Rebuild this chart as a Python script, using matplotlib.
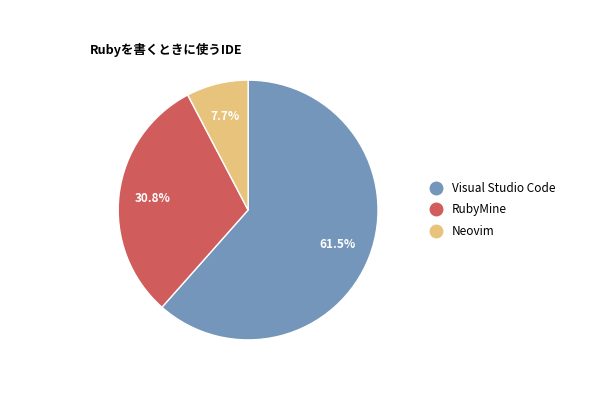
import matplotlib.pyplot as plt
from matplotlib.lines import Line2D

plt.rcParams['font.family'] = ['Noto Sans CJK JP', 'DejaVu Sans']

labels = ["Visual Studio Code", "RubyMine", "Neovim"]
values = [8, 4, 1]
colors = ["#7496bb", "#d15c5c", "#e7c37c"]

fig = plt.figure(figsize=(6, 4), dpi=100)
ax = fig.add_axes([0.197, 0.15, 0.433, 0.65])
wedges, texts, autotexts = ax.pie(values, colors=colors, startangle=90, counterclock=False,
                                  autopct="%.1f%%", pctdistance=0.74,
                                  wedgeprops=dict(edgecolor="white", linewidth=1))
for t in autotexts:
    t.set_color("white")
    t.set_fontsize(8.5)
    t.set_fontweight("bold")
ax.set_aspect("equal")
ax.set_xlim(-1.0, 1.0)
ax.set_ylim(-1.0, 1.0)

fig.text(0.15, 0.875, "Rubyを書くときに使うIDE", fontsize=9, fontweight="bold", va="center")

handles = [Line2D([], [], marker="o", linestyle="", markersize=9, markerfacecolor=c,
                  markeredgecolor=c) for c in colors]
fig.legend(handles, labels, loc="center left", bbox_to_anchor=(0.69, 0.475), frameon=False,
           fontsize=8.5, handletextpad=0.3, labelspacing=0.75)

fig.savefig("out.png", dpi=100)
